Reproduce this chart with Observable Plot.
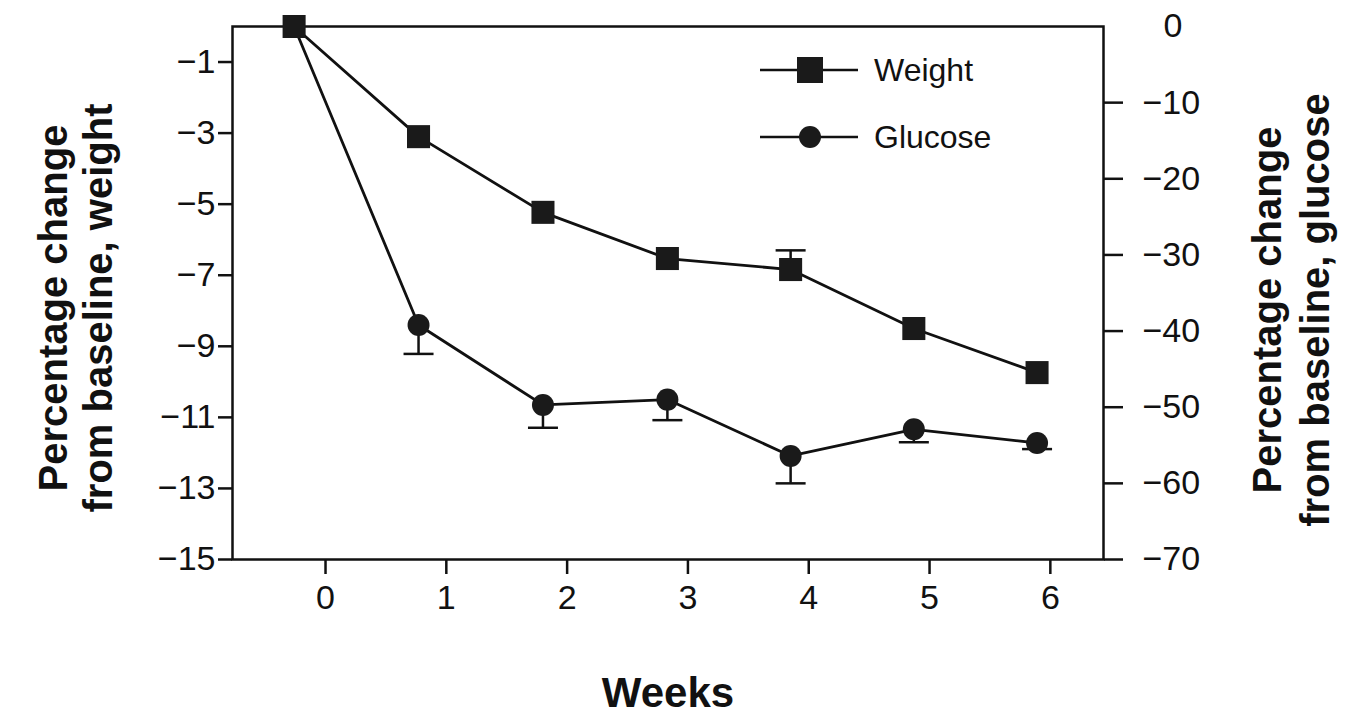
<!DOCTYPE html>
<html>
<head>
<meta charset="utf-8">
<script src="https://cdn.jsdelivr.net/npm/d3@7"></script>
<script src="https://cdn.jsdelivr.net/npm/@observablehq/plot@0.6"></script>
<style>
  html, body { margin: 0; padding: 0; background: #fff; }
  #wrap { position: relative; width: 1353px; height: 715px; font-family: "Liberation Sans", Arial, sans-serif; color: #111; }
  #legend { position: absolute; left: 758px; top: 46px; }
  .row { display: flex; align-items: center; height: 48px; margin-bottom: 19px; }
  .row span { font-size: 32px; margin-left: 14px; }
</style>
</head>
<body>
<div id="wrap">
  <div id="chart"></div>
  <div id="legend">
    <div class="row"><svg width="102" height="40"><line x1="2" y1="20" x2="100" y2="20" stroke="#111" stroke-width="2.5"/><rect x="39" y="7" width="26" height="26" fill="#1a1a1a"/></svg><span>Weight</span></div>
    <div class="row"><svg width="102" height="40"><line x1="2" y1="20" x2="100" y2="20" stroke="#111" stroke-width="2.5"/><circle cx="52" cy="20" r="11" fill="#1a1a1a"/></svg><span>Glucose</span></div>
  </div>
</div>
<script>
// ---- data ----
const weeks = [-0.26, 0.77, 1.80, 2.83, 3.85, 4.87, 5.89];   // plotted positions
const weight = [0, -3.10, -5.23, -6.53, -6.84, -8.50, -9.74];  // % change, left axis
const glucose = [0, -39.2, -49.7, -49.0, -56.4, -52.9, -54.7]; // % change, right axis
const weightErrTop = [null, null, null, null, -6.30, null, null];
const glucoseErrLow = [null, -43.0, -52.7, -51.7, -60.0, -54.6, -55.5];
const xTicks = [0, 1, 2, 3, 4, 5, 6];
const leftTicks = [-1, -3, -5, -7, -9, -11, -13, -15];
const rightTicks = [-10, -20, -30, -40, -50, -60, -70];

// glucose is mapped onto the weight scale (0..-70 spans 0..-15)
const G = 15 / 70;
const rows = weeks.map((w, i) => ({
  week: w, weight: weight[i], glucose: glucose[i] * G,
  wErr: weightErrTop[i], gErr: glucoseErrLow[i] == null ? null : glucoseErrLow[i] * G
}));
const minus = v => (v < 0 ? "\u2212" + Math.abs(v) : String(v));
const capSymbol = { draw(ctx) { ctx.moveTo(-15, 0); ctx.lineTo(15, 0); } };
const ink = "#111";

const chart = Plot.plot({
  width: 1353, height: 715,
  marginLeft: 232, marginRight: 250, marginTop: 26, marginBottom: 156,
  style: { fontFamily: "Liberation Sans, Arial, sans-serif", fontSize: "34px", color: ink, background: "#fff" },
  x: { domain: [-0.77, 6.44] },
  y: { domain: [-15, 0] },
  marks: [
    Plot.axisX({ ticks: xTicks, tickSize: 15, tickPadding: 10, strokeWidth: 2.5, label: null, tickFormat: d => String(d) }),
    Plot.axisY({ anchor: "left", ticks: leftTicks, tickSize: 14, tickPadding: 3, strokeWidth: 2.5, label: null, tickFormat: minus }),
    Plot.axisY({ anchor: "right", ticks: rightTicks.map(v => v * G), tickSize: 19, tickPadding: 20, strokeWidth: 2.5, label: null,
      tickFormat: d => minus(Math.round(d / G)) }),
    Plot.axisY({ anchor: "right", ticks: [0], tickSize: 0, tickPadding: 60, label: null, tickFormat: d => "0" }),
    Plot.frame({ stroke: ink, strokeWidth: 2.5 }),
    // error bars
    Plot.ruleX(rows.filter(d => d.gErr != null), { x: "week", y1: "glucose", y2: "gErr", stroke: ink, strokeWidth: 2.5 }),
    Plot.dot(rows.filter(d => d.gErr != null), { x: "week", y: "gErr", symbol: capSymbol, stroke: ink, strokeWidth: 2.5, r: 5 }),
    Plot.ruleX(rows.filter(d => d.wErr != null), { x: "week", y1: "weight", y2: "wErr", stroke: ink, strokeWidth: 2.5 }),
    Plot.dot(rows.filter(d => d.wErr != null), { x: "week", y: "wErr", symbol: capSymbol, stroke: ink, strokeWidth: 2.5, r: 5 }),
    // lines
    Plot.line(rows, { x: "week", y: "weight", stroke: ink, strokeWidth: 2.8 }),
    Plot.line(rows, { x: "week", y: "glucose", stroke: ink, strokeWidth: 2.8 }),
    // markers
    Plot.dot(rows, { x: "week", y: "weight", symbol: "square", r: 13, fill: "#1a1a1a", stroke: "none" }),
    Plot.dot(rows, { x: "week", y: "glucose", symbol: "circle", r: 11, fill: "#1a1a1a", stroke: "none" }),
    // axis titles
    Plot.text(["Percentage change\nfrom baseline, weight"], { frameAnchor: "left", text: d => d, rotate: -90, dx: -157, dy: 15,
      textAnchor: "middle", lineAnchor: "middle", fontSize: 40, fontWeight: "bold", lineHeight: 1.12, fill: ink }),
    Plot.text(["Percentage change\nfrom baseline, glucose"], { frameAnchor: "right", text: d => d, rotate: -90, dx: 186, dy: 17,
      textAnchor: "middle", lineAnchor: "middle", fontSize: 40, fontWeight: "bold", lineHeight: 1.2, fill: ink }),
    Plot.text(["Weeks"], { frameAnchor: "bottom", text: d => d, dy: 134, lineAnchor: "middle", fontSize: 42, fontWeight: "bold", fill: ink })
  ]
});
document.getElementById("chart").appendChild(chart);
</script>
</body>
</html>
